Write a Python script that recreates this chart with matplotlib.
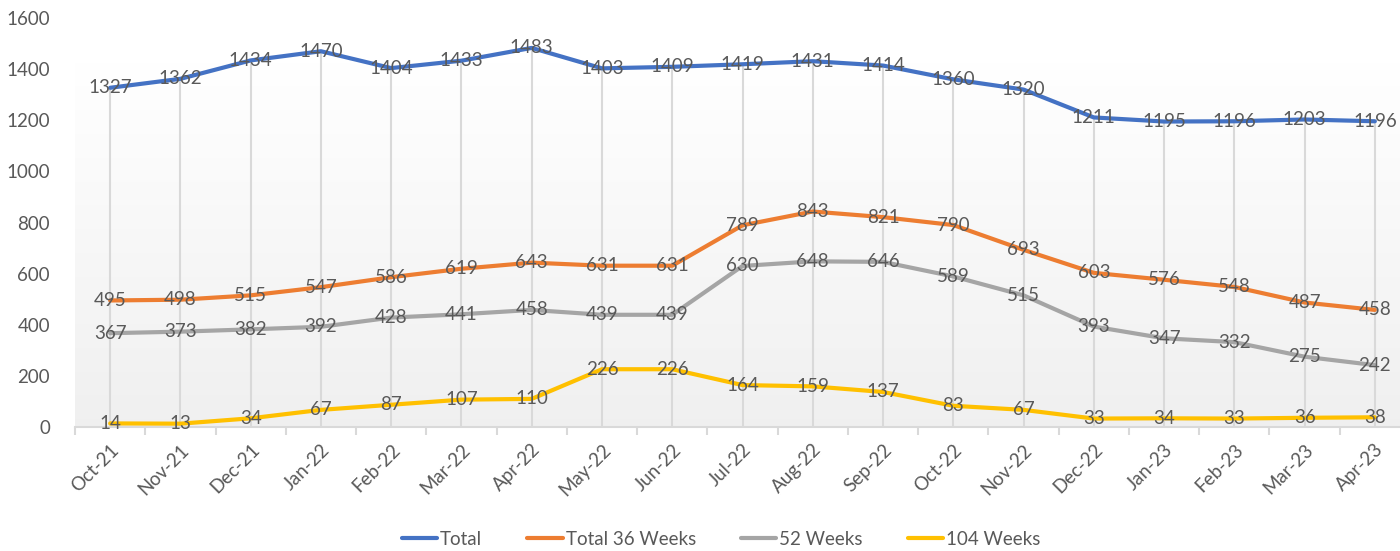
import matplotlib
matplotlib.use("Agg")
import matplotlib.pyplot as plt
import numpy as np

months = ["Oct-21", "Nov-21", "Dec-21", "Jan-22", "Feb-22", "Mar-22", "Apr-22", "May-22", "Jun-22",
          "Jul-22", "Aug-22", "Sep-22", "Oct-22", "Nov-22", "Dec-22", "Jan-23", "Feb-23", "Mar-23", "Apr-23"]
total = [1327, 1362, 1434, 1470, 1404, 1433, 1483, 1403, 1409, 1419, 1431, 1414, 1360, 1320, 1211, 1195, 1196, 1203, 1196]
total_36 = [495, 498, 515, 547, 586, 619, 643, 631, 631, 789, 843, 821, 790, 693, 603, 576, 548, 487, 458]
weeks_52 = [367, 373, 382, 392, 428, 441, 458, 439, 439, 630, 648, 646, 589, 515, 393, 347, 332, 275, 242]
weeks_104 = [14, 13, 34, 67, 87, 107, 110, 226, 226, 164, 159, 137, 83, 67, 33, 34, 33, 36, 38]

series = [("Total", total, "#4472C4"),
          ("Total 36 Weeks", total_36, "#ED7D31"),
          ("52 Weeks", weeks_52, "#A5A5A5"),
          ("104 Weeks", weeks_104, "#FFC000")]

plt.rcParams['font.family'] = ['Lato', 'DejaVu Sans']
txt = "#595959"

fig = plt.figure(figsize=(14, 5.51), dpi=100)
ax = fig.add_axes([75/1400, 1-427/551, 1335/1400, (427-18)/551])
x = np.arange(len(months))
ax.set_xlim(-0.5, len(months) - 0.5)
ax.set_ylim(0, 1600)

# gradient plot-area background
grad = np.linspace(0, 1, 256).reshape(-1, 1)
top_c = np.array([1.0, 1.0, 1.0])
bot_c = np.array([0.94, 0.94, 0.94])
img = top_c * (1 - grad[..., None]) + bot_c * grad[..., None]
ax.imshow(img, extent=(-0.5, len(months) - 0.5, 0, 1425), aspect='auto', origin='upper', zorder=0)

# drop lines
ax.vlines(x, 0, total, color="#d9d9d9", lw=1.5, zorder=1)

for name, vals, col in series:
    ax.plot(x, vals, color=col, lw=3, label=name, zorder=3, solid_capstyle='round')
    for xi, v in zip(x, vals):
        ax.text(xi, v, str(v), ha='center', va='center', fontsize=13.5, color=txt, zorder=4)

for s in ['top', 'right', 'left']:
    ax.spines[s].set_visible(False)
ax.spines['bottom'].set_color("#d9d9d9")
ax.spines['bottom'].set_linewidth(1.5)
ax.spines['bottom'].set_zorder(2)

ax.set_xticks(x)
ax.set_xticklabels(months, rotation=45, ha='right', rotation_mode='anchor', fontsize=13.5, color=txt)
ax.tick_params(axis='x', which='major', length=0, pad=10)
ax.set_xticks(np.arange(-0.5, len(months), 1), minor=True)
ax.tick_params(axis='x', which='minor', length=6, width=1.5, color="#d9d9d9")
ax.set_yticks(np.arange(0, 1601, 200))
ax.tick_params(axis='y', length=0, labelsize=13.5, labelcolor=txt, pad=18)

leg = fig.legend(loc='lower center', bbox_to_anchor=(0.515, -0.025), ncol=4, frameon=False,
                 fontsize=13.5, handlelength=1.9, handletextpad=0.15, columnspacing=2.4)
for t in leg.get_texts():
    t.set_color(txt)

fig.savefig("out.png", dpi=100)
